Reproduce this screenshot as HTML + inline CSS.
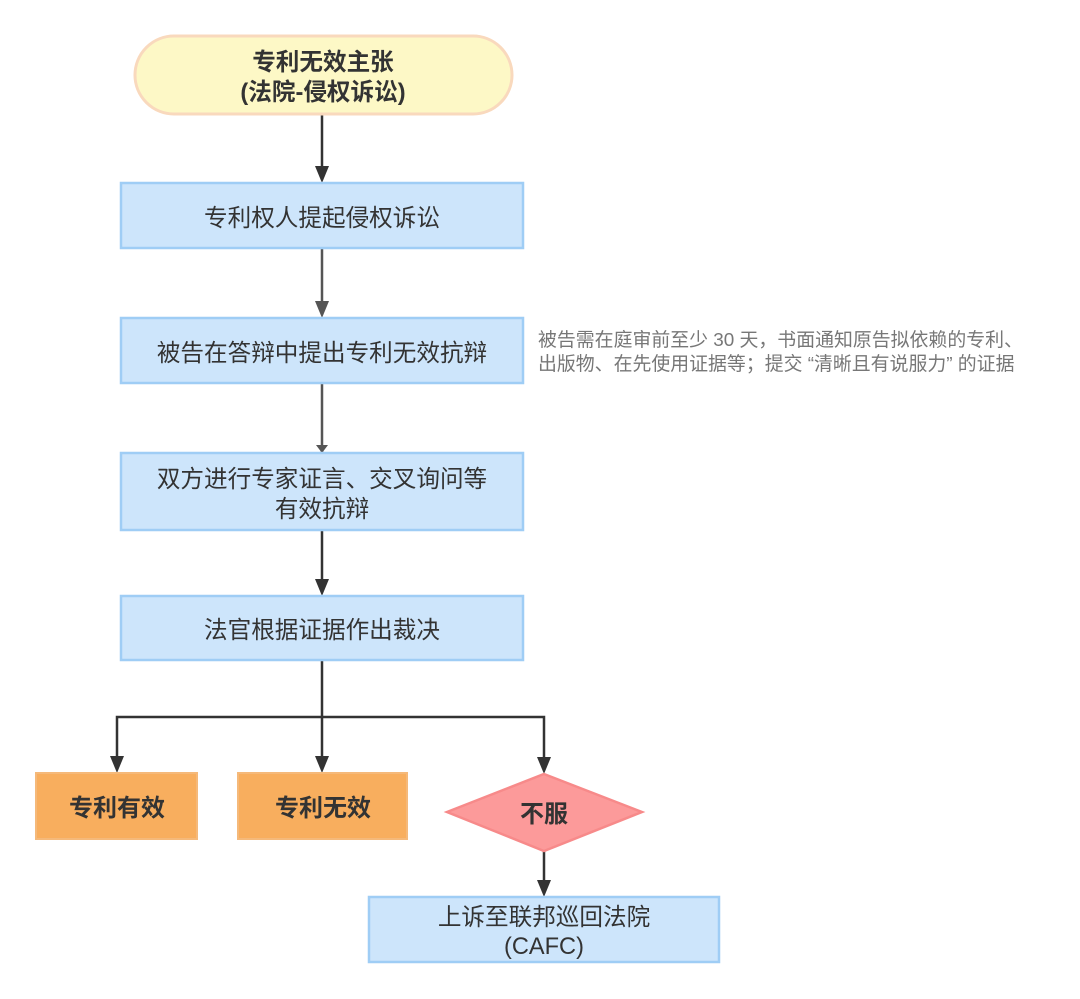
<!DOCTYPE html>
<html><head><meta charset="utf-8"><style>
html,body{margin:0;padding:0;background:#fff}
svg{display:block}
text{font-family:"Liberation Sans","Noto Sans CJK SC",sans-serif}
</style></head><body>
<svg width="1080" height="999" viewBox="0 0 1080 999" xmlns="http://www.w3.org/2000/svg">
<g stroke="#333" stroke-width="2.5" fill="none">
<line x1="322" y1="114" x2="322" y2="168"/>
<line x1="322" y1="248" x2="322" y2="303" stroke="#555"/>
<line x1="322" y1="383" x2="322" y2="453" stroke="#555"/>
<line x1="322" y1="530" x2="322" y2="581"/>
<line x1="322" y1="660" x2="322" y2="758"/>
<polyline points="117,758 117,717 544,717 544,758"/>
<line x1="544" y1="851" x2="544" y2="882"/>
</g>
<g fill="#333">
<path d="M315,166 L329,166 L322,183 z"/>
<path d="M315,301 L329,301 L322,318 z" fill="#555"/>
<path d="M316,445 L328,445 L322,453 z" fill="#555"/>
<path d="M315,579 L329,579 L322,596 z"/>
<path d="M110,756 L124,756 L117,773 z"/>
<path d="M315,756 L329,756 L322,773 z"/>
<path d="M537,757 L551,757 L544,774 z"/>
<path d="M537,880 L551,880 L544,897 z"/>
</g>
<rect x="135" y="36" width="377" height="78" rx="39" fill="#fdf8c6" stroke="#f9d9bd" stroke-width="3"/>
<text x="323" y="70" font-size="23.6" font-weight="bold" text-anchor="middle" fill="#333">专利无效主张</text>
<text x="323" y="100" font-size="23.6" font-weight="bold" text-anchor="middle" fill="#333">(法院-侵权诉讼)</text>
<g fill="#cde5fb" stroke="#9fcdf5" stroke-width="2.5">
<rect x="121" y="183" width="402" height="65"/>
<rect x="121" y="318" width="402" height="65"/>
<rect x="121" y="453" width="402" height="77"/>
<rect x="121" y="596" width="402" height="64"/>
<rect x="369" y="897" width="350" height="65"/>
</g>
<g font-size="23.6" fill="#333" text-anchor="middle">
<text x="322" y="226">专利权人提起侵权诉讼</text>
<text x="322" y="361">被告在答辩中提出专利无效抗辩</text>
<text x="322" y="487">双方进行专家证言、交叉询问等</text>
<text x="322" y="517">有效抗辩</text>
<text x="322" y="638">法官根据证据作出裁决</text>
<text x="544" y="925">上诉至联邦巡回法院</text>
<text x="544" y="954">(CAFC)</text>
</g>
<g font-size="18.9" fill="#777">
<text x="538" y="346">被告需在庭审前至少 30 天，书面通知原告拟依赖的专利、</text>
<text x="538" y="370">出版物、在先使用证据等；提交 “清晰且有说服力” 的证据</text>
</g>
<g fill="#f8ae5e" stroke="#f5b97a" stroke-width="2">
<rect x="36" y="773" width="161" height="66"/>
<rect x="238" y="773" width="169" height="66"/>
</g>
<polygon points="544,774 642,812 544,851 447,812" fill="#fc9a9a" stroke="#f78a8a" stroke-width="2.5"/>
<g font-size="24" font-weight="bold" fill="#333" text-anchor="middle">
<text x="117" y="816">专利有效</text>
<text x="323" y="816">专利无效</text>
<text x="544" y="822">不服</text>
</g>
</svg>
</body></html>
